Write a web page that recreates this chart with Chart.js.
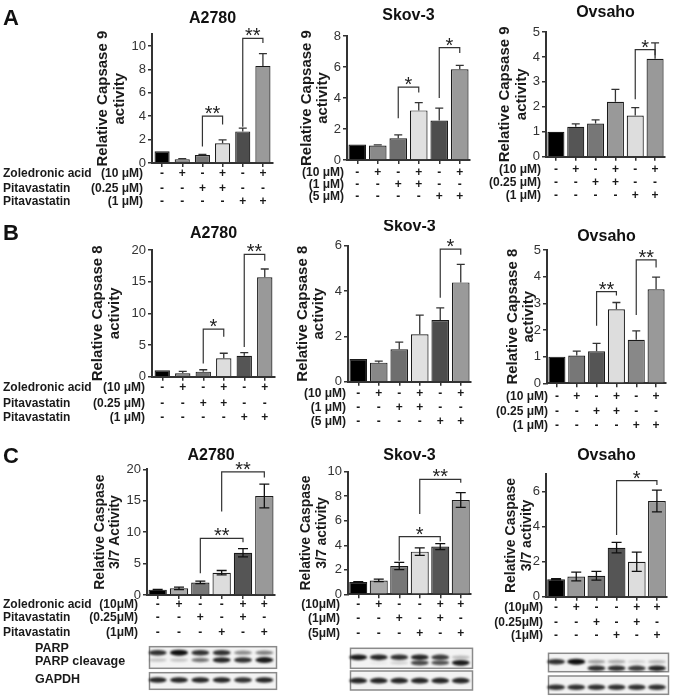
<!DOCTYPE html>
<html>
<head>
<meta charset="utf-8">
<script src="https://cdn.jsdelivr.net/npm/chart.js@4.4.1/dist/chart.umd.min.js"></script>
<style>
  html, body { margin: 0; padding: 0; background: #fff; }
  #fig { position: relative; width: 675px; height: 697px; overflow: hidden; }
  .box { position: absolute; }
</style>
</head>
<body>
<div id="fig"></div>
<script>
const fam = "'Liberation Sans', Arial, sans-serif";
Chart.defaults.font.family = fam;

// treatment groups (A and B panels, then C panels)
const groupsAB = ['Control', 'ZA', 'P low', 'ZA + P low', 'P high', 'ZA + P high'];
const groupsC = ['Control', 'ZA', 'P low', 'P high', 'ZA + P low', 'ZA + P high'];
const zolAB = ['-', '+', '-', '+', '-', '+'];
const lowAB = ['-', '-', '+', '+', '-', '-'];
const highAB = ['-', '-', '-', '-', '+', '+'];
const zolC = ['-', '+', '-', '-', '+', '+'];
const lowC = ['-', '-', '+', '-', '+', '-'];
const highC = ['-', '-', '-', '+', '-', '+'];

// row labels
const drugNames = ['Zoledronic acid', 'Pitavastatin', 'Pitavastatin'];
const dosesA2780 = ['(10 μM)', '(0.25 μM)', '(1 μM)'];
const dosesSkov3 = ['(10 μM)', '(1 μM)', '(5 μM)'];
const dosesOvsaho = ['(10 μM)', '(0.25 μM)', '(1 μM)'];
const dosesA2780C = ['(10μM)', '(0.25μM)', '(1μM)'];
const dosesSkov3C = ['(10μM)', '(1μM)', '(5μM)'];
const dosesOvsahoC = ['(10μM)', '(0.25μM)', '(1μM)'];

// Caspase 9 (A)
const a2780Casp9 = [1.0, 0.33, 0.68, 1.68, 2.7, 8.3];
const a2780Casp9Sem = [0, 0.05, 0.05, 0.3, 0.28, 1.05];
const skov3Casp9 = [1.0, 0.93, 1.4, 3.2, 2.55, 5.85];
const skov3Casp9Sem = [0, 0.05, 0.22, 0.5, 0.8, 0.25];
const ovsahoCasp9 = [1.0, 1.2, 1.33, 2.2, 1.65, 3.93];
const ovsahoCasp9Sem = [0, 0.12, 0.15, 0.5, 0.32, 0.63];

// Caspase 8 (B)
const a2780Casp8 = [1.0, 0.55, 0.8, 2.9, 3.3, 15.7];
const a2780Casp8Sem = [0, 0.3, 0.3, 0.8, 0.5, 1.3];
const skov3Casp8 = [1.0, 0.84, 1.43, 2.09, 2.72, 4.38];
const skov3Casp8Sem = [0, 0.07, 0.32, 0.85, 0.54, 0.8];
const ovsahoCasp8 = [1.0, 1.04, 1.2, 2.78, 1.63, 3.53];
const ovsahoCasp8Sem = [0, 0.17, 0.3, 0.25, 0.34, 0.45];

// Caspase 3/7 (C)
const a2780Casp37 = [0.85, 1.06, 2.0, 3.55, 6.73, 15.75];
const a2780Casp37Sem = [0.05, 0.2, 0.2, 0.35, 0.65, 1.9];
const skov3Casp37 = [1.0, 1.13, 2.31, 3.48, 3.89, 7.69];
const skov3Casp37Sem = [0.03, 0.1, 0.3, 0.3, 0.25, 0.6];
const ovsahoCasp37 = [1.0, 1.15, 1.2, 2.8, 2.0, 5.47];
const ovsahoCasp37Sem = [0.03, 0.25, 0.25, 0.3, 0.55, 0.62];

// significance brackets: [from bar, to bar, top, left leg end, right leg end, stars]
const sigA2780Casp9 = [[2, 3, 4.0, 1.4, 3.3, '**'], [4, 5, 10.65, 3.1, 10.25, '**']];
const sigSkov3Casp9 = [[2, 3, 4.7, 2.7, 4.35, '*'], [4, 5, 7.25, 4.0, 6.9, '*']];
const sigOvsahoCasp9 = [[4, 5, 4.29, 2.3, 4.07, '*']];
const sigA2780Casp8 = [[2, 3, 7.5, 2.1, 6.3, '*'], [4, 5, 19.3, 4.7, 18.3, '**']];
const sigSkov3Casp8 = [[4, 5, 5.85, 3.7, 5.6, '*']];
const sigOvsahoCasp8 = [[2, 3, 3.44, 2.16, 3.29, '**'], [4, 5, 4.63, 2.56, 4.34, '**']];
const sigA2780Casp37 = [[2, 4, 9.0, 3.45, 8.4, '**'], [3, 5, 19.6, 13.3, 18.7, '**']];
const sigSkov3Casp37 = [[2, 4, 4.7, 2.74, 4.3, '*'], [3, 5, 9.37, 6.55, 9.1, '**']];
const sigOvsahoCasp37 = [[3, 5, 6.63, 3.52, 6.38, '*']];

// western blot band strength per lane
const parpA2780 = [0.85, 1.0, 0.85, 0.85, 0.45, 0.5];
const cleavedA2780 = [0.2, 0.2, 0.55, 0.9, 0.85, 0.95];
const gapdhA2780 = [0.9, 0.9, 0.9, 0.9, 0.85, 0.9];
const parpSkov3 = [0.95, 0.9, 0.85, 0.9, 0.8, 0.25];
const cleavedSkov3 = [0, 0.05, 0.15, 0.75, 0.7, 0.95];
const gapdhSkov3 = [0.9, 0.9, 0.9, 0.9, 0.9, 0.9];
const parpOvsaho = [0.85, 1.0, 0.35, 0.3, 0.15, 0.25];
const cleavedOvsaho = [0, 0, 0.85, 0.85, 0.8, 0.9];
const gapdhOvsaho = [0.85, 0.85, 0.85, 0.85, 0.85, 0.85];

const X_H = 5;

const panels = [
  { box: [0, 0, 285, 220], frame: [152, 273, 34.3, 163, 94.75], yMax: 11, step: 2,
    title: 'A2780', titleY: 23, letter: 'A', letterY: 25,
    yTitle: ['Relative Capsase 9', 'activity'], ySize: 15,
    labels: groupsAB, values: a2780Casp9, err: a2780Casp9Sem, sig: sigA2780Casp9,
    colors: ['#000', '#8a8a8a', '#777', '#ddd', '#4d4d4d', '#9a9a9a'],
    signs: [zolAB, lowAB, highAB], names: drugNames, doses: dosesA2780, doseX: 143,
    rows: [11, 25.5, 39], barPct: 0.75 },
  { box: [285, 0, 193, 220], frame: [347, 470, 36, 160, 298.5], yMax: 8, step: 2,
    title: 'Skov-3', titleY: 20,
    yTitle: ['Relative Capsase 9', 'activity'], ySize: 15,
    labels: groupsAB, values: skov3Casp9, err: skov3Casp9Sem, sig: sigSkov3Casp9,
    colors: ['#000', '#8a8a8a', '#6e6e6e', '#e0e0e0', '#4d4d4d', '#9a9a9a'],
    signs: [zolAB, lowAB, highAB], doses: dosesSkov3, doseX: 344,
    rows: [12.5, 24.5, 36.5], barPct: 0.86 },
  { box: [478, 0, 197, 220], frame: [546, 665, 32, 156.7, 496.8], yMax: 5, step: 1,
    title: 'Ovsaho', titleY: 17,
    yTitle: ['Relative Capsase 9', 'activity'], ySize: 15,
    labels: groupsAB, values: ovsahoCasp9, err: ovsahoCasp9Sem, sig: sigOvsahoCasp9,
    colors: ['#000', '#555', '#777', '#999', '#ddd', '#999'],
    signs: [zolAB, lowAB, highAB], doses: dosesOvsaho, doseX: 541,
    rows: [12.5, 26, 39], barPct: 0.86 },
  { box: [0, 220, 285, 215], frame: [152, 275, 250, 376.7, 90], yMax: 20, step: 5,
    title: 'A2780', titleY: 238, letter: 'B', letterY: 240,
    yTitle: ['Relative Capsase 8', 'activity'], ySize: 15,
    labels: groupsAB, values: a2780Casp8, err: a2780Casp8Sem, sig: sigA2780Casp8,
    colors: ['#000', '#888', '#777', '#ddd', '#555', '#999'],
    signs: [zolAB, lowAB, highAB], names: drugNames, doses: dosesA2780, doseX: 145,
    rows: [11, 26.5, 41], barPct: 0.75 },
  { box: [285, 220, 193, 215], frame: [348, 471, 245.7, 381.7, 294.5], yMax: 6, step: 2,
    title: 'Skov-3', titleY: 231,
    yTitle: ['Relative Capsase 8', 'activity'], ySize: 15,
    labels: groupsAB, values: skov3Casp8, err: skov3Casp8Sem, sig: sigSkov3Casp8,
    colors: ['#000', '#888', '#6e6e6e', '#e0e0e0', '#4d4d4d', '#9a9a9a'],
    signs: [zolAB, lowAB, highAB], doses: dosesSkov3, doseX: 346,
    rows: [11.5, 26, 40], barPct: 0.86 },
  { box: [478, 220, 197, 215], frame: [547, 666, 250, 383.3, 504.5], yMax: 5, step: 1,
    title: 'Ovsaho', titleY: 241,
    yTitle: ['Relative Capsase 8', 'activity'], ySize: 15,
    labels: groupsAB, values: ovsahoCasp8, err: ovsahoCasp8Sem, sig: sigOvsahoCasp8,
    colors: ['#000', '#777', '#555', '#ddd', '#888', '#999'],
    signs: [zolAB, lowAB, highAB], doses: dosesOvsaho, doseX: 548,
    rows: [13.5, 28, 42.5], barPct: 0.86 },
  { box: [0, 435, 285, 262], frame: [147, 275, 469.3, 595, 92], yMax: 20, step: 5,
    title: 'A2780', titleY: 460, letter: 'C', letterY: 463,
    yTitle: ['Relative Caspase', '3/7 Activity'], ySize: 14,
    labels: groupsC, values: a2780Casp37, err: a2780Casp37Sem, sig: sigA2780Casp37, twoSided: true,
    colors: ['#000', '#aaa', '#777', '#ddd', '#555', '#999'],
    signs: [zolC, lowC, highC], names: drugNames, doses: dosesA2780C, doseX: 138,
    rows: [10, 23, 37.5], barPct: 0.86,
    blot: { lanes: [parpA2780, cleavedA2780, gapdhA2780], bands: [57.7, 65, 85],
            boxes: [[51.7, 73.3], [77.7, 94.3]], text: [['PARP', 54], ['PARP cleavage', 67], ['GAPDH', 85]] } },
  { box: [285, 435, 193, 262], frame: [348, 471, 471.7, 594.3, 298.7], yMax: 10, step: 2,
    title: 'Skov-3', titleY: 460,
    yTitle: ['Relative Caspase', '3/7 activity'], ySize: 14,
    labels: groupsC, values: skov3Casp37, err: skov3Casp37Sem, sig: sigSkov3Casp37, twoSided: true,
    colors: ['#000', '#aaa', '#777', '#ddd', '#555', '#999'],
    signs: [zolC, lowC, highC], doses: dosesSkov3C, doseX: 340,
    rows: [10.7, 24, 39], barPct: 0.88,
    blot: { lanes: [parpSkov3, cleavedSkov3, gapdhSkov3], bands: [63, 68.5, 86.4],
            boxes: [[54, 74], [76.7, 95.7]] } },
  { box: [478, 435, 197, 262], frame: [546, 667, 474.2, 596.7, 503.7], yMax: 7, step: 2,
    title: 'Ovsaho', titleY: 460,
    yTitle: ['Relative Caspase', '3/7 activity'], ySize: 14,
    labels: groupsC, values: ovsahoCasp37, err: ovsahoCasp37Sem, sig: sigOvsahoCasp37, twoSided: true,
    colors: ['#000', '#999', '#777', '#555', '#ddd', '#999'],
    signs: [zolC, lowC, highC], doses: dosesOvsahoC, doseX: 543,
    rows: [11, 26, 39], barPct: 0.88,
    blot: { lanes: [parpOvsaho, cleavedOvsaho, gapdhOvsaho], bands: [65, 71.6, 90.6],
            boxes: [[56.6, 75], [79.3, 97.6]] } }
];

// error bars, brackets, titles, treatment table and blots
function annotator(p, k) {
  const bx = p.box[0], by = p.box[1];
  return {
    id: 'annot' + k,
    afterDatasetsDraw(chart) {
      const ctx = chart.ctx, ys = chart.scales.y;
      const bars = chart.getDatasetMeta(0).data;
      ctx.save();
      ctx.strokeStyle = p.twoSided ? '#111' : '#333';
      ctx.lineWidth = 1.3;
      bars.forEach((b, i) => {
        const e = p.err[i];
        if (!e) return;
        const v = p.values[i];
        const t = ys.getPixelForValue(v + e);
        const lo = p.twoSided ? ys.getPixelForValue(v - e) : b.y;
        const c = p.twoSided ? 5 : 4;
        ctx.beginPath();
        ctx.moveTo(b.x, lo); ctx.lineTo(b.x, t);
        ctx.moveTo(b.x - c, t); ctx.lineTo(b.x + c, t);
        if (p.twoSided) { ctx.moveTo(b.x - c, lo); ctx.lineTo(b.x + c, lo); }
        ctx.stroke();
      });
      ctx.restore();
    },
    afterDraw(chart) {
      const ctx = chart.ctx, ys = chart.scales.y, area = chart.chartArea;
      const bars = chart.getDatasetMeta(0).data;
      ctx.save();

      // significance brackets
      p.sig.forEach(([i, j, top, l, r, star]) => {
        const x1 = bars[i].x, x2 = bars[j].x, yt = ys.getPixelForValue(top);
        ctx.strokeStyle = '#333';
        ctx.lineWidth = 1.2;
        ctx.beginPath();
        ctx.moveTo(x1, ys.getPixelForValue(l));
        ctx.lineTo(x1, yt);
        ctx.lineTo(x2, yt);
        ctx.lineTo(x2, ys.getPixelForValue(r));
        ctx.stroke();
        ctx.fillStyle = '#222';
        ctx.font = '20px ' + fam;
        ctx.textAlign = 'center';
        ctx.textBaseline = 'alphabetic';
        ctx.fillText(star, (x1 + x2) / 2, yt + 4);
      });

      // cell line title and panel letter
      ctx.fillStyle = '#111';
      ctx.font = 'bold 16px ' + fam;
      ctx.textAlign = 'center';
      ctx.textBaseline = 'alphabetic';
      ctx.fillText(p.title, (area.left + area.right) / 2, p.titleY - by);
      if (p.letter) {
        ctx.font = 'bold 22px ' + fam;
        ctx.textAlign = 'left';
        ctx.fillText(p.letter, 3, p.letterY - by);
      }

      // treatment table
      ctx.font = 'bold 12px ' + fam;
      ctx.textBaseline = 'middle';
      ctx.fillStyle = '#1a1a1a';
      p.signs.forEach((row, r) => {
        const yy = area.bottom + p.rows[r];
        ctx.textAlign = 'center';
        row.forEach((s, i) => ctx.fillText(s, bars[i].x, yy));
        ctx.textAlign = 'right';
        ctx.fillText(p.doses[r], p.doseX - bx, yy);
        if (p.names) {
          ctx.textAlign = 'left';
          ctx.fillText(p.names[r], 3, yy);
        }
      });

      // western blot
      if (p.blot) {
        const g = p.blot, b0 = area.bottom;
        const x0 = area.left + 2.5, x1 = area.right + 1.5;
        g.boxes.forEach(([t0, t1]) => {
          ctx.fillStyle = '#f3f3f3';
          ctx.fillRect(x0, b0 + t0, x1 - x0, t1 - t0);
          ctx.strokeStyle = '#8a8a8a';
          ctx.lineWidth = 1.5;
          ctx.strokeRect(x0, b0 + t0, x1 - x0, t1 - t0);
        });
        ctx.filter = 'blur(0.8px)';
        g.bands.forEach((off, k) => {
          g.lanes[k].forEach((a, i) => {
            if (a <= 0) return;
            ctx.fillStyle = 'rgba(15,15,15,' + Math.min(a, 1) + ')';
            ctx.beginPath();
            ctx.ellipse(bars[i].x, b0 + off, 9, 1.4 + 1.6 * a, 0, 0, Math.PI * 2);
            ctx.fill();
          });
        });
        ctx.filter = 'none';
        if (g.text) {
          ctx.fillStyle = '#1a1a1a';
          ctx.font = 'bold 12.5px ' + fam;
          ctx.textAlign = 'left';
          g.text.forEach(([t, off]) => ctx.fillText(t, 35, b0 + off));
        }
      }
      ctx.restore();
    }
  };
}

const fig = document.getElementById('fig');
panels.forEach((p, k) => {
  const [bx, by, bw, bh] = p.box;
  const [left, right, top, bottom, tLeft] = p.frame;
  const div = document.createElement('div');
  div.className = 'box';
  div.style.cssText = `left:${bx}px;top:${by}px;width:${bw}px;height:${bh}px`;
  const cv = document.createElement('canvas');
  div.appendChild(cv);
  fig.appendChild(div);

  new Chart(cv, {
    type: 'bar',
    data: {
      labels: p.labels,
      datasets: [{
        data: p.values,
        backgroundColor: p.colors,
        borderColor: '#1a1a1a',
        borderWidth: 1.2,
        barPercentage: p.barPct,
        categoryPercentage: 1
      }]
    },
    options: {
      responsive: true,
      maintainAspectRatio: false,
      animation: false,
      devicePixelRatio: 1,
      layout: {
        padding: { left: tLeft - bx, right: bx + bw - right, top: top - by, bottom: by + bh - bottom - X_H }
      },
      plugins: { legend: { display: false }, tooltip: { enabled: false } },
      scales: {
        x: {
          afterFit: s => { s.height = X_H; },
          border: { color: '#333', width: 2 },
          grid: { drawOnChartArea: false, offset: false, tickLength: 4, color: '#333', lineWidth: 1.5 },
          ticks: { display: false }
        },
        y: {
          min: 0,
          max: p.yMax,
          afterFit: s => { s.width = left - tLeft; },
          border: { color: '#333', width: 2 },
          grid: { drawOnChartArea: false, tickLength: 4, color: '#333', lineWidth: 1.5 },
          ticks: { stepSize: p.step, includeBounds: false, color: '#333', padding: 2, font: { size: 13 } },
          title: {
            display: true,
            text: p.yTitle,
            color: '#1a1a1a',
            padding: 0,
            font: { size: p.ySize, weight: 'bold', lineHeight: 1.1 }
          }
        }
      }
    },
    plugins: [annotator(p, k)]
  });
});
</script>
</body>
</html>
